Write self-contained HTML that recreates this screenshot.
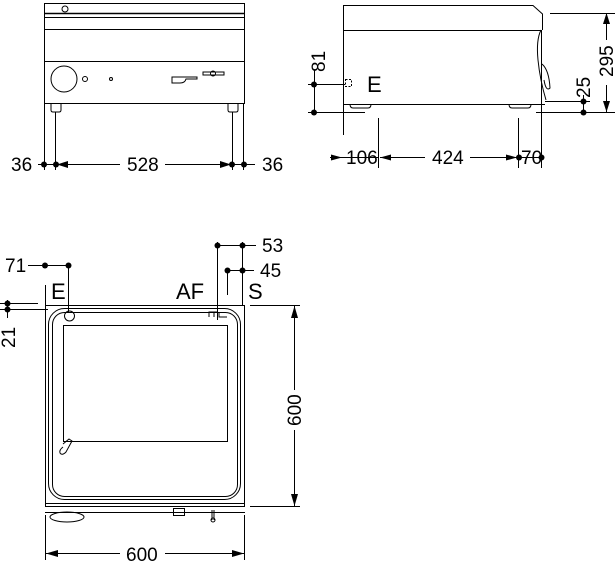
<!DOCTYPE html>
<html><head><meta charset="utf-8"><style>
html,body{margin:0;padding:0;background:#fff;}
svg{display:block;}
text{font-family:"Liberation Sans",sans-serif;fill:#000;stroke:none;}
</style></head><body>
<svg width="615" height="562" viewBox="0 0 615 562" xmlns="http://www.w3.org/2000/svg" stroke="#000" fill="none" stroke-width="1">
<!-- FRONT VIEW -->
<rect x="44.5" y="3.5" width="200" height="100"/>
<line x1="44" y1="13.5" x2="245" y2="13.5" stroke-width="1.5"/>
<line x1="44" y1="17.5" x2="245" y2="17.5"/>
<line x1="44" y1="29.5" x2="245" y2="29.5"/>
<line x1="44" y1="61.5" x2="245" y2="61.5"/>
<circle cx="65" cy="9" r="3"/>
<circle cx="64" cy="79" r="13"/>
<circle cx="85" cy="79" r="2.5"/>
<circle cx="111" cy="79" r="1.5"/>
<path d="M172 77 H197 V79 H186 Q185 83 180 83 H172 Z"/>
<path d="M203 72 H224 V75 H203 Z"/>
<circle cx="213" cy="73.5" r="2.5"/>
<path d="M51 104 V110 Q51 112 53 112 H59 Q61 112 61 110 V104"/>
<path d="M228 104 V110 Q228 112 230 112 H236 Q238 112 238 110 V104"/>
<line x1="44.5" y1="104" x2="44.5" y2="170"/>
<line x1="55.5" y1="112" x2="55.5" y2="170"/>
<line x1="232.5" y1="112" x2="232.5" y2="170"/>
<line x1="243.5" y1="104" x2="243.5" y2="170"/>
<line x1="38" y1="164.5" x2="120" y2="164.5"/>
<line x1="165" y1="164.5" x2="255" y2="164.5"/>
<g fill="#000" stroke="none">
<circle cx="44" cy="164.5" r="3"/><circle cx="56" cy="164.5" r="3"/>
<circle cx="232" cy="164.5" r="3"/><circle cx="244" cy="164.5" r="3"/>
<path d="M57 164.5 L68 161 V168 Z"/><path d="M231 164.5 L220 161 V168 Z"/>
</g>
<text x="11" y="171" font-size="19">36</text>
<text x="127" y="171" font-size="19">528</text>
<text x="262" y="171" font-size="19">36</text>

<!-- SIDE VIEW -->
<path d="M343.5 5.5 H533 L542.5 14 V30"/>
<line x1="343" y1="30.5" x2="541" y2="30.5"/>
<line x1="343.5" y1="5" x2="343.5" y2="135"/>
<line x1="343" y1="104.5" x2="545" y2="104.5"/>
<path d="M541 30 Q536 40 538 60 Q540 80 546 100 M542 64 Q549 70 550 88 Q546 92 544 80"/>
<path d="M350 104 Q350 108 353 108 H368 Q371 108 371 104"/>
<path d="M509 104 Q509 108 512 108 H528 Q531 108 531 104"/>
<rect x="345.5" y="79.5" width="6" height="7" stroke-dasharray="2,1.5"/>
<text x="367" y="92" font-size="22">E</text>
<line x1="378.5" y1="118" x2="378.5" y2="168"/>
<line x1="518.5" y1="118" x2="518.5" y2="168"/>
<line x1="541.5" y1="30" x2="541.5" y2="168"/>
<line x1="308" y1="84.5" x2="345" y2="84.5"/>
<line x1="308" y1="112.5" x2="365" y2="112.5"/>
<line x1="314.5" y1="70" x2="314.5" y2="112"/>
<line x1="536" y1="112.5" x2="615" y2="112.5"/>
<line x1="545" y1="101.5" x2="590" y2="101.5"/>
<line x1="550" y1="13.5" x2="615" y2="13.5"/>
<line x1="606.5" y1="13" x2="606.5" y2="40"/>
<line x1="606.5" y1="85" x2="606.5" y2="112"/>
<line x1="583.5" y1="95" x2="583.5" y2="112"/>
<line x1="330" y1="157.5" x2="378" y2="157.5"/>
<line x1="380" y1="157.5" x2="425" y2="157.5"/>
<line x1="470" y1="157.5" x2="542" y2="157.5"/>
<g fill="#000" stroke="none">
<circle cx="314" cy="84.5" r="3"/><circle cx="314" cy="112.5" r="3"/>
<circle cx="583.5" cy="101.5" r="3"/><circle cx="583.5" cy="112.5" r="3"/>
<path d="M606.5 13 L603 24 H610 Z"/><path d="M606.5 112 L603 101 H610 Z"/>
<path d="M342 157.5 L331 154.5 V160.5 Z"/><path d="M380 157.5 L391 154.5 V160.5 Z"/>
<path d="M517 157.5 L506 154.5 V160.5 Z"/>
<circle cx="519" cy="157.5" r="3"/><circle cx="541.5" cy="157.5" r="3"/>
</g>
<text x="346" y="164" font-size="19">106</text>
<text x="432" y="164" font-size="19">424</text>
<text x="521" y="164" font-size="19">70</text>
<text transform="translate(325,72) rotate(-90)" font-size="19">81</text>
<text transform="translate(613,77) rotate(-90)" font-size="19">295</text>
<text transform="translate(590,98) rotate(-90)" font-size="19">25</text>

<!-- TOP VIEW -->
<rect x="45.5" y="305.5" width="199" height="201"/>
<rect x="48.5" y="308.5" width="192" height="191" rx="16"/>
<rect x="52.5" y="312.5" width="185" height="184" rx="12"/>
<rect x="63.5" y="325.5" width="164" height="116"/>
<line x1="45" y1="503.5" x2="245" y2="503.5"/>
<line x1="45" y1="512.5" x2="245" y2="512.5"/>
<ellipse cx="67" cy="517" rx="17" ry="5"/>
<rect x="173.5" y="508.5" width="11" height="7"/>
<path d="M212 510 V520 M214 510 V520"/><circle cx="213" cy="520" r="2"/>
<circle cx="69.5" cy="316" r="5"/>
<path d="M63 444 L69 439 L72 441 L66 452 Q62 456 60 453 Q59 450 63 447"/>
<path d="M209 317 V312 H217 M214 312 V317 M219 312 V317 H227"/>
<line x1="45.5" y1="285" x2="45.5" y2="305"/>
<line x1="68.5" y1="265" x2="68.5" y2="312"/>
<line x1="217.5" y1="242" x2="217.5" y2="320"/>
<line x1="227.5" y1="268" x2="227.5" y2="295"/>
<line x1="242.5" y1="242" x2="242.5" y2="305"/>
<line x1="28" y1="265.5" x2="70" y2="265.5"/>
<line x1="217" y1="245.5" x2="256" y2="245.5"/>
<line x1="227" y1="270.5" x2="254" y2="270.5"/>
<line x1="0" y1="303.5" x2="38" y2="303.5"/>
<line x1="0" y1="309.5" x2="48" y2="309.5"/>
<line x1="7.5" y1="300" x2="7.5" y2="318"/>
<line x1="250" y1="305.5" x2="300" y2="305.5"/>
<line x1="250" y1="506.5" x2="300" y2="506.5"/>
<line x1="294.5" y1="306" x2="294.5" y2="390"/>
<line x1="294.5" y1="430" x2="294.5" y2="506"/>
<line x1="45.5" y1="515" x2="45.5" y2="560"/>
<line x1="244.5" y1="515" x2="244.5" y2="560"/>
<line x1="46" y1="553.5" x2="120" y2="553.5"/>
<line x1="165" y1="553.5" x2="244" y2="553.5"/>
<g fill="#000" stroke="none">
<circle cx="45" cy="265.5" r="3"/><circle cx="68.5" cy="265.5" r="3"/>
<circle cx="217.5" cy="245.5" r="3"/><circle cx="242.5" cy="245.5" r="3"/>
<circle cx="227.5" cy="270.5" r="3"/><circle cx="242.5" cy="270.5" r="3"/>
<circle cx="7.5" cy="303.5" r="3"/><circle cx="7.5" cy="309.5" r="3"/>
<path d="M294.5 306 L291 318 H298 Z"/><path d="M294.5 506 L291 494 H298 Z"/>
<path d="M46 553.5 L58 550 V557 Z"/><path d="M244 553.5 L232 550 V557 Z"/>
</g>
<text x="5" y="272" font-size="19">71</text>
<text x="262" y="252" font-size="19">53</text>
<text x="260" y="277" font-size="19">45</text>
<text x="51" y="299" font-size="22">E</text>
<text x="176" y="299" font-size="22">AF</text>
<text x="248" y="299" font-size="22">S</text>
<text transform="translate(15,348) rotate(-90)" font-size="19">21</text>
<text transform="translate(301,426) rotate(-90)" font-size="19">600</text>
<text x="126" y="561" font-size="19">600</text>
</svg>
</body></html>
